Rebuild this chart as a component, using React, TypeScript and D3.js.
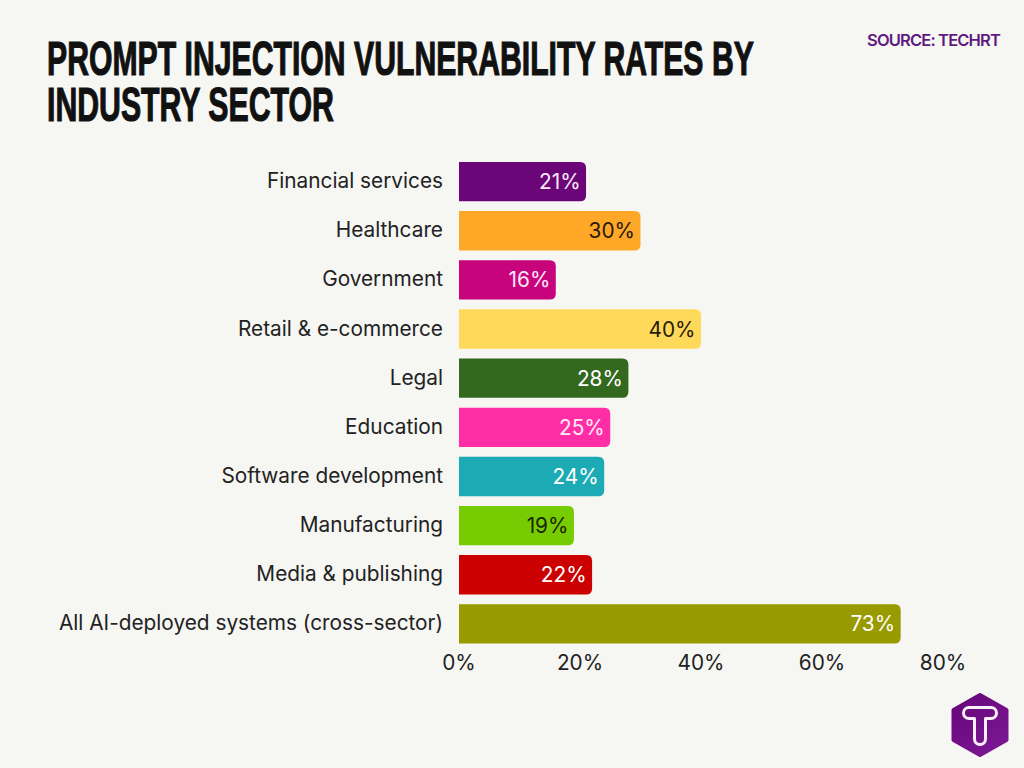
import React, { useLayoutEffect, useRef } from "react";
import * as d3 from "d3";

const categories = ["Financial services","Healthcare","Government","Retail & e-commerce","Legal","Education","Software development","Manufacturing","Media & publishing","All AI-deployed systems (cross-sector)"];
const values = [21,30,16,40,28,25,24,19,22,73];
const barColors = ["#6b0679","#ffa726","#c8047c","#ffd95a","#33691e","#ff2da6","#1cabb5","#76cc00","#cc0000","#999900"];
const labelColors = ["#fbe9fb","#2a1a08","#fbe9fb","#2a1a08","#ffffff","#ffeaf6","#ffffff","#1a2600","#ffffff","#ffffff"];
const xTicks = [0,20,40,60,80];
const titleLines = ["PROMPT INJECTION VULNERABILITY RATES BY","INDUSTRY SECTOR"];
const titleWidths = [707,287];
const font = "Inter, sans-serif";

function TitleLine({ text, width, baseline }: { text: string; width: number; baseline: number }) {
  const ref = useRef<SVGTextElement>(null);
  useLayoutEffect(() => {
    const el = ref.current;
    if (!el) return;
    const natural = el.getComputedTextLength();
    el.setAttribute("transform", `translate(47,${baseline}) scale(${width / natural},1)`);
  }, [text, width, baseline]);
  return (
    <text ref={ref} fontFamily="'Liberation Sans Narrow', 'Liberation Sans', sans-serif" fontWeight={700} fontSize={48.500} fill="#111111" stroke="#111111" strokeWidth={1} vectorEffect="non-scaling-stroke">{text}</text>
  );
}

export default function App() {
  const x = d3.scaleLinear().domain([0,80]).range([459,943]);
  const y = d3.scaleBand<string>().domain(categories).range([157,648.500]).paddingInner(0.2).paddingOuter(0.1);
  const h = y.bandwidth();
  const r = 6;
  const hex = d3.line()([[980,695],[1006.500,710],[1006.500,740],[980,755],[953.500,740],[953.500,710]]) + "Z";
  return (
    <svg width={1024} height={768} viewBox="0 0 1024 768" style={{position:"absolute",left:0,top:0,display:"block"}}>
      <defs>
        <linearGradient id="logoGrad" gradientUnits="userSpaceOnUse" x1="952" y1="693" x2="1008" y2="757">
          <stop offset="0" stopColor="#66047a"/>
          <stop offset="1" stopColor="#7d1a96"/>
        </linearGradient>
      </defs>
      <rect width={1024} height={768} fill="#f6f6f3"/>
      {titleLines.map((t,i)=>(
        <TitleLine key={t} text={t} width={titleWidths[i]} baseline={75+i*46}/>
      ))}
      <text x={1000} y={46} textAnchor="end" fontFamily={font} fontWeight={600} fontSize={16.500} letterSpacing={-0.85} fill="#5f1a80">SOURCE: TECHRT</text>
      {categories.map((c,i)=>{
        const y0 = y(c)!;
        const x0 = x(0), x1 = x(values[i]);
        const d = `M${x0},${y0}H${x1-r}Q${x1},${y0} ${x1},${y0+r}V${y0+h-r}Q${x1},${y0+h} ${x1-r},${y0+h}H${x0}Z`;
        return (
          <g key={c}>
            <text x={443} y={y0+h/2+6.500} textAnchor="end" fontFamily={font} fontSize={20.800} fill="#222222">{c}</text>
            <path d={d} fill={barColors[i]}/>
            <text x={x1-5.500} y={y0+h/2+7.500} textAnchor="end" fontFamily={font} fontSize={20.800} fill={labelColors[i]}>{values[i]}%</text>
          </g>
        );
      })}
      {xTicks.map(t=>(
        <text key={t} x={x(t)} y={670} textAnchor="middle" fontFamily={font} fontSize={20.800} fill="#222222">{t}%</text>
      ))}
      <path d={hex} fill="url(#logoGrad)" stroke="url(#logoGrad)" strokeWidth={4} strokeLinejoin="round"/>
      <path d="M969,707.500H991a5.500,5.500 0 0 1 0,11H985.500V739a5.500,5.500 0 0 1 -11,0V718.500H969a5.500,5.500 0 0 1 0,-11Z" fill="none" stroke="#fbeefb" strokeWidth={3} strokeLinejoin="round"/>
    </svg>
  );
}
